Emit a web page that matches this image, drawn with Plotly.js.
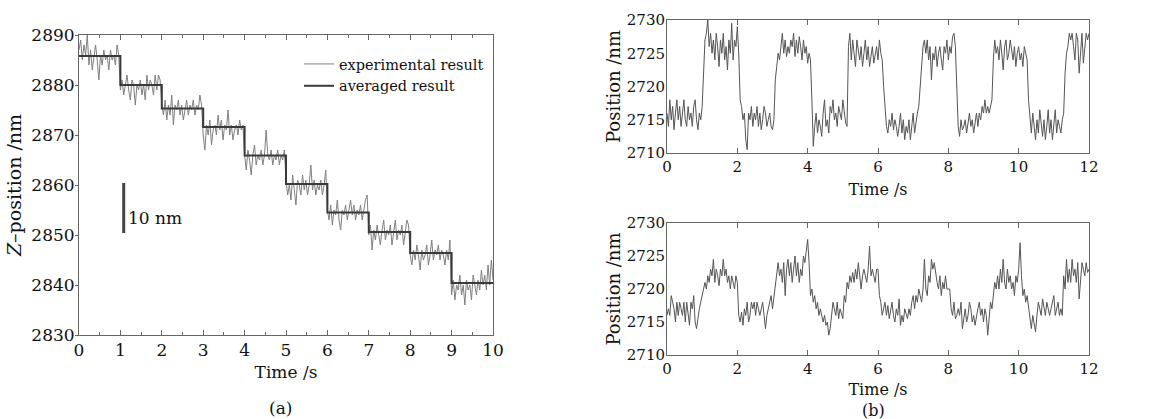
<!DOCTYPE html>
<html>
<head>
<meta charset="utf-8">
<script src="https://cdn.plot.ly/plotly-3.0.1.min.js"></script>
<style>html,body{margin:0;padding:0;background:#fff;}#chart{width:1171px;height:419px;}</style>
</head>
<body>
<div id="chart"></div>
<script>
// ---------- Panel (a): Z-position vs time ----------
const aSampleStep = 0.04; // s
const aExperimental = [
 2887,2889,2885,2888,2886,2890,2884,2887,2883,2886,2888,2885,2881,2886,2884,2887,2885,2886,2883,2887,2885,2886,2884,2888,2886,
 2879,2881,2878,2880,2882,2879,2877,2881,2880,2876,2880,2879,2881,2878,2880,2877,2882,2879,2881,2880,2878,2882,2879,2882,2881,
 2876,2874,2877,2873,2876,2874,2878,2872,2876,2875,2877,2874,2876,2873,2875,2877,2874,2876,2875,2877,2874,2876,2875,2878,2876,
 2870,2867,2872,2870,2873,2868,2871,2872,2870,2874,2871,2873,2869,2872,2871,2875,2870,2872,2869,2871,2872,2870,2873,2871,2872,
 2866,2863,2867,2865,2862,2866,2868,2864,2866,2865,2867,2864,2866,2871,2866,2865,2867,2864,2866,2865,2867,2864,2866,2865,2867,
 2861,2858,2860,2857,2862,2859,2856,2861,2860,2858,2862,2859,2861,2858,2860,2864,2859,2861,2858,2860,2859,2861,2858,2860,2863,
 2855,2853,2856,2852,2855,2854,2857,2853,2851,2855,2854,2856,2853,2855,2857,2854,2856,2853,2855,2854,2856,2853,2855,2857,2858,
 2850,2852,2847,2851,2849,2852,2850,2848,2851,2853,2849,2851,2850,2852,2848,2851,2853,2849,2851,2850,2852,2848,2851,2853,2852,
 2846,2844,2847,2845,2848,2846,2843,2847,2845,2846,2848,2844,2846,2849,2845,2847,2846,2848,2845,2847,2846,2844,2847,2845,2849,
 2838,2841,2837,2840,2839,2842,2838,2840,2836,2841,2839,2840,2837,2842,2840,2838,2841,2839,2843,2840,2842,2839,2844,2840,2845,
 2841
];
const aStepTimes = [0,1,2,3,4,5,6,7,8,9,10];
const aStepLevels = [2885.8,2880.0,2875.3,2871.6,2865.9,2860.2,2854.5,2850.6,2846.4,2840.4,2840.4];
const aXTicks = [0,1,2,3,4,5,6,7,8,9,10];
const aYTicks = [2830,2840,2850,2860,2870,2880,2890];
const scaleBarTime = 1.08, scaleBarBottom = 2850.4, scaleBarLength = 10;

// ---------- Panel (b): position vs time ----------
const bSampleStep = 0.04; // s
const bTopPosition = [
 2716,2714,2718,2715,2717,2713.5,2716,2718,2715,2717,2714,2716,2718,2715,2714,2717,2715,2716,2714,2717,2718,2715,2713.5,2716,2715,2717,
 2722,
 2727,2728,2730,2726,2728,2725,2727,2724,2728,2726,2723,2727,2725,2728,2724,2726,2722.5,2727,2725,2729.5,2724,2727,2726,2729,2725,
 2718,
 2717,2715,2716,2712,2710.5,2716,2715,2717,2714,2716,2715,2717,2714,2716,2713.5,2715,2717,2716,2714,2715,2716,2714,2713.5,2715,
 2721,2723,2725,2724,2726,2728,2725,2727,2724.5,2726,2725,2727,2726,2728,2724.5,2727,2725,2727.5,2726,2724,2727,2725,2726,2723.5,2725,2724,
 2718,
 2711,2714,2716,2713,2715,2714,2712.5,2716,2718,2714,2715,2713,2717,2716,2718,2715,2716,2714,2717,2716,2715,2718,2716,2714.5,2714,
 2726,2728,2724,2727,2725,2723,2727,2725,2724,2726,2723,2725,2727,2724,2726,2723,2725,2726,2723.5,2725,2726,2724,2727,2725,2724,
 2720,
 2716,2714,2713,2715,2714,2716,2713.5,2715,2714,2712.5,2714,2716,2713,2715,2712,2714,2713,2715,2712,2714,2716,2713,2715,2716,2717,
 2720,2723,2726,2727,2725,2727,2724,2726,2721,2725,2724,2726,2723,2725,2726,2724,2722.5,2726,2725,2727,2724,2726,2725,2727.5,2728,2726,
 2719,
 2714,2712.5,2715,2713.5,2714,2715,2713,2714.5,2716,2714,2715,2713,2715,2716,2714,2716,2715,2717,2716,2718,2716,2717,2716,2717,2718,
 2724,2727,2725,2726,2724,2727,2725,2722.5,2726,2727,2724,2725,2727,2725,2724,2726,2723,2725,2726,2724,2725,2723,2726,2725,2724,
 2718,
 2715,2713,2716,2714,2712,2715,2713,2716.5,2714,2712.5,2715,2712,2714,2716.5,2713,2715,2712,2714,2716.5,2713,2715,2714,2713,2715,2716,
 2722,2725,2726,2728,2727,2728,2726,2724,2728,2727,2722,2726,2728,2723.5,2726,2728,2727,2728
];
const bBottomPosition = [
 2716,2717,2716,2719,2718,2717,2715,2718,2716,2718,
 2717,2716,2718,2715,2718,2716,2714.5,2718,2717,2719,
 2715,2714,2716,2717,2718,2719,2720,2721,2720,2722,
 2721,2723,2722,2724.5,2721,2723,2722,2720.5,2723,2722,
 2724.5,2722,2723,2721,2722,2720,2722,2721,2720,2722,
 2721,2716,2715,2716.5,2714.5,2717,2716,2718,2715,2716,
 2718,2717,2718,2716,2718,2717,2716,2717,2718,2716,
 2714,2716,2717,2718,2719,2717,2719,2720,2722,2724,
 2722,2723,2721,2724,2719,2723,2724.5,2722,2724,2721,
 2723,2725,2722,2724,2721,2723,2722,2725,2724,2726,
 2727.5,2724,2719,2720,2718,2719,2717,2718,2716,2717,
 2716,2715,2716,2714.5,2715,2713,2714,2716,2718,2717,
 2716,2718,2715.5,2717,2716,2715.5,2719,2718,2721,2720,
 2722,2721,2722.5,2721,2723,2721.5,2724,2722,2720,2722,
 2723,2722,2721,2723,2726.5,2722,2723,2722,2721,2723,
 2723,2719,2718,2716,2717,2718,2716,2717.5,2715.5,2717,
 2718,2716,2715,2717,2716,2718.5,2714.5,2716,2715,2717,
 2716,2715.5,2717,2716,2718,2719,2717,2719,2718,2720,
 2719,2718,2720,2724.5,2720,2719,2722,2721,2724.5,2723,
 2724,2722,2721,2720,2722,2719,2721,2720,2722,2720,
 2720,2720,2717,2716,2718,2715.5,2716,2717,2716,2718,
 2714,2716,2717,2715,2716,2718,2717,2715,2716,2714.5,
 2716,2717,2718,2716,2717,2715,2717,2716,2713,2715,
 2718,2717,2719,2721,2720,2722,2720,2723,2721,2724.5,
 2721,2720,2723,2721,2722,2720,2721,2719,2722,2721,
 2723,2727,2722,2719,2720,2718,2719,2717,2715,2714,
 2716,2715,2713.5,2716,2718,2717,2716,2718.5,2717,2716,
 2718,2717,2716,2717,2718,2719,2716,2717,2718,2716,
 2717,2716,2722,2720,2724.5,2721,2723,2721,2724.5,2722,
 2723,2721,2724,2718.5,2722,2724,2723,2722,2724,2722.5,
 2723
];
const bXTicks = [0,2,4,6,8,10,12];
const bYTicks = [2710,2715,2720,2725,2730];

// ---------- styling ----------
const FONT = 'DejaVu Serif, Liberation Serif, serif';
const W = 1171, H = 419;
const px = v => v / W, py = v => 1 - v / H;
const axisLine = '#666';

const traces = [
  {type:'scatter', mode:'lines', name:'experimental result', y:aExperimental, x0:0, dx:aSampleStep,
   line:{color:'#808080', width:1}, xaxis:'x', yaxis:'y'},
  {type:'scatter', mode:'lines', name:'averaged result', x:aStepTimes, y:aStepLevels,
   line:{color:'#3a3a3a', width:2, shape:'hv'}, xaxis:'x', yaxis:'y'},
  {type:'scatter', mode:'lines', name:'top', y:bTopPosition, x0:0, dx:bSampleStep, showlegend:false,
   line:{color:'#555', width:1}, xaxis:'x2', yaxis:'y2'},
  {type:'scatter', mode:'lines', name:'bottom', y:bBottomPosition, x0:0, dx:bSampleStep, showlegend:false,
   line:{color:'#555', width:1}, xaxis:'x3', yaxis:'y3'}
];

function xAx(domain, range, ticks, size, titleSize, standoff, minor){
  const ax = {domain, range, tickmode:'array', tickvals:ticks, ticktext:ticks.map(String),
    ticks:'inside', ticklen:5, tickcolor:axisLine, showline:true, linecolor:axisLine, linewidth:1,
    mirror:'ticks', showgrid:false, zeroline:false, fixedrange:true,
    tickfont:{family:FONT, size, color:'#111'},
    title:{text:'Time /s', font:{family:FONT, size:titleSize, color:'#111'}, standoff}};
  if (minor) ax.minor = {dtick:minor, ticks:'inside', ticklen:3, tickcolor:axisLine, showgrid:false};
  return ax;
}
function yAx(domain, range, ticks, size, title, titleSize, standoff, tk, labelShift, anchor){
  return {domain, range, tickmode:'array', tickvals:ticks, ticktext:ticks.map(String),
    ticks:tk, ticklen:3, tickcolor:axisLine, showline:true, linecolor:axisLine, linewidth:1,
    mirror:true, showgrid:false, zeroline:false, fixedrange:true, anchor,
    ticklabelstandoff:labelShift,
    tickfont:{family:FONT, size, color:'#111'},
    title:{text:title, font:{family:FONT, size:titleSize, color:'#111'}, standoff}};
}

const layout = {
  width:W, height:H, margin:{l:0, r:0, t:0, b:0}, paper_bgcolor:'#fff', plot_bgcolor:'#fff',
  showlegend:true,
  legend:{x:px(299), y:py(48), xanchor:'left', yanchor:'top', bgcolor:'rgba(0,0,0,0)',
    font:{family:FONT, size:14.5, color:'#111'}, tracegroupgap:0},
  xaxis: xAx([px(79), px(493)], [0,10], aXTicks, 17, 17, 6, 0.5),
  yaxis: yAx([1-335/H, 1-35/H], [2830,2890], aYTicks, 17, '<i>Z</i>–position /nm', 19, 4, 'outside', -3, 'x'),
  xaxis2: Object.assign(xAx([px(667), px(1089)], [0,12], bXTicks, 15, 16, 8, null), {anchor:'y2'}),
  yaxis2: yAx([1-153/H, 1-20/H], [2710,2730], bYTicks, 15, 'Position /nm', 18, 1, '', -2, 'x2'),
  xaxis3: Object.assign(xAx([px(667), px(1089)], [0,12], bXTicks, 15, 16, 6, null), {anchor:'y3'}),
  yaxis3: yAx([1-355/H, 1-223/H], [2710,2730], bYTicks, 15, 'Position /nm', 18, 1, '', -2, 'x3'),
  shapes:[
    {type:'line', xref:'x', yref:'y', x0:scaleBarTime, x1:scaleBarTime,
     y0:scaleBarBottom, y1:scaleBarBottom + scaleBarLength, line:{color:'#444', width:3}}
  ],
  annotations:[
    {xref:'x', yref:'y', x:scaleBarTime, y:scaleBarBottom + scaleBarLength*0.3, xanchor:'left', yanchor:'middle',
     xshift:2, text:scaleBarLength + ' nm', showarrow:false, font:{family:FONT, size:17, color:'#111'}},
    {xref:'paper', yref:'paper', x:px(280), y:py(408), xanchor:'center', yanchor:'middle',
     text:'(a)', showarrow:false, font:{family:FONT, size:17, color:'#111'}},
    {xref:'paper', yref:'paper', x:px(873), y:py(410), xanchor:'center', yanchor:'middle',
     text:'(b)', showarrow:false, font:{family:FONT, size:16, color:'#111'}}
  ]
};

Plotly.newPlot('chart', traces, layout, {displayModeBar:false, staticPlot:true});
</script>
</body>
</html>
